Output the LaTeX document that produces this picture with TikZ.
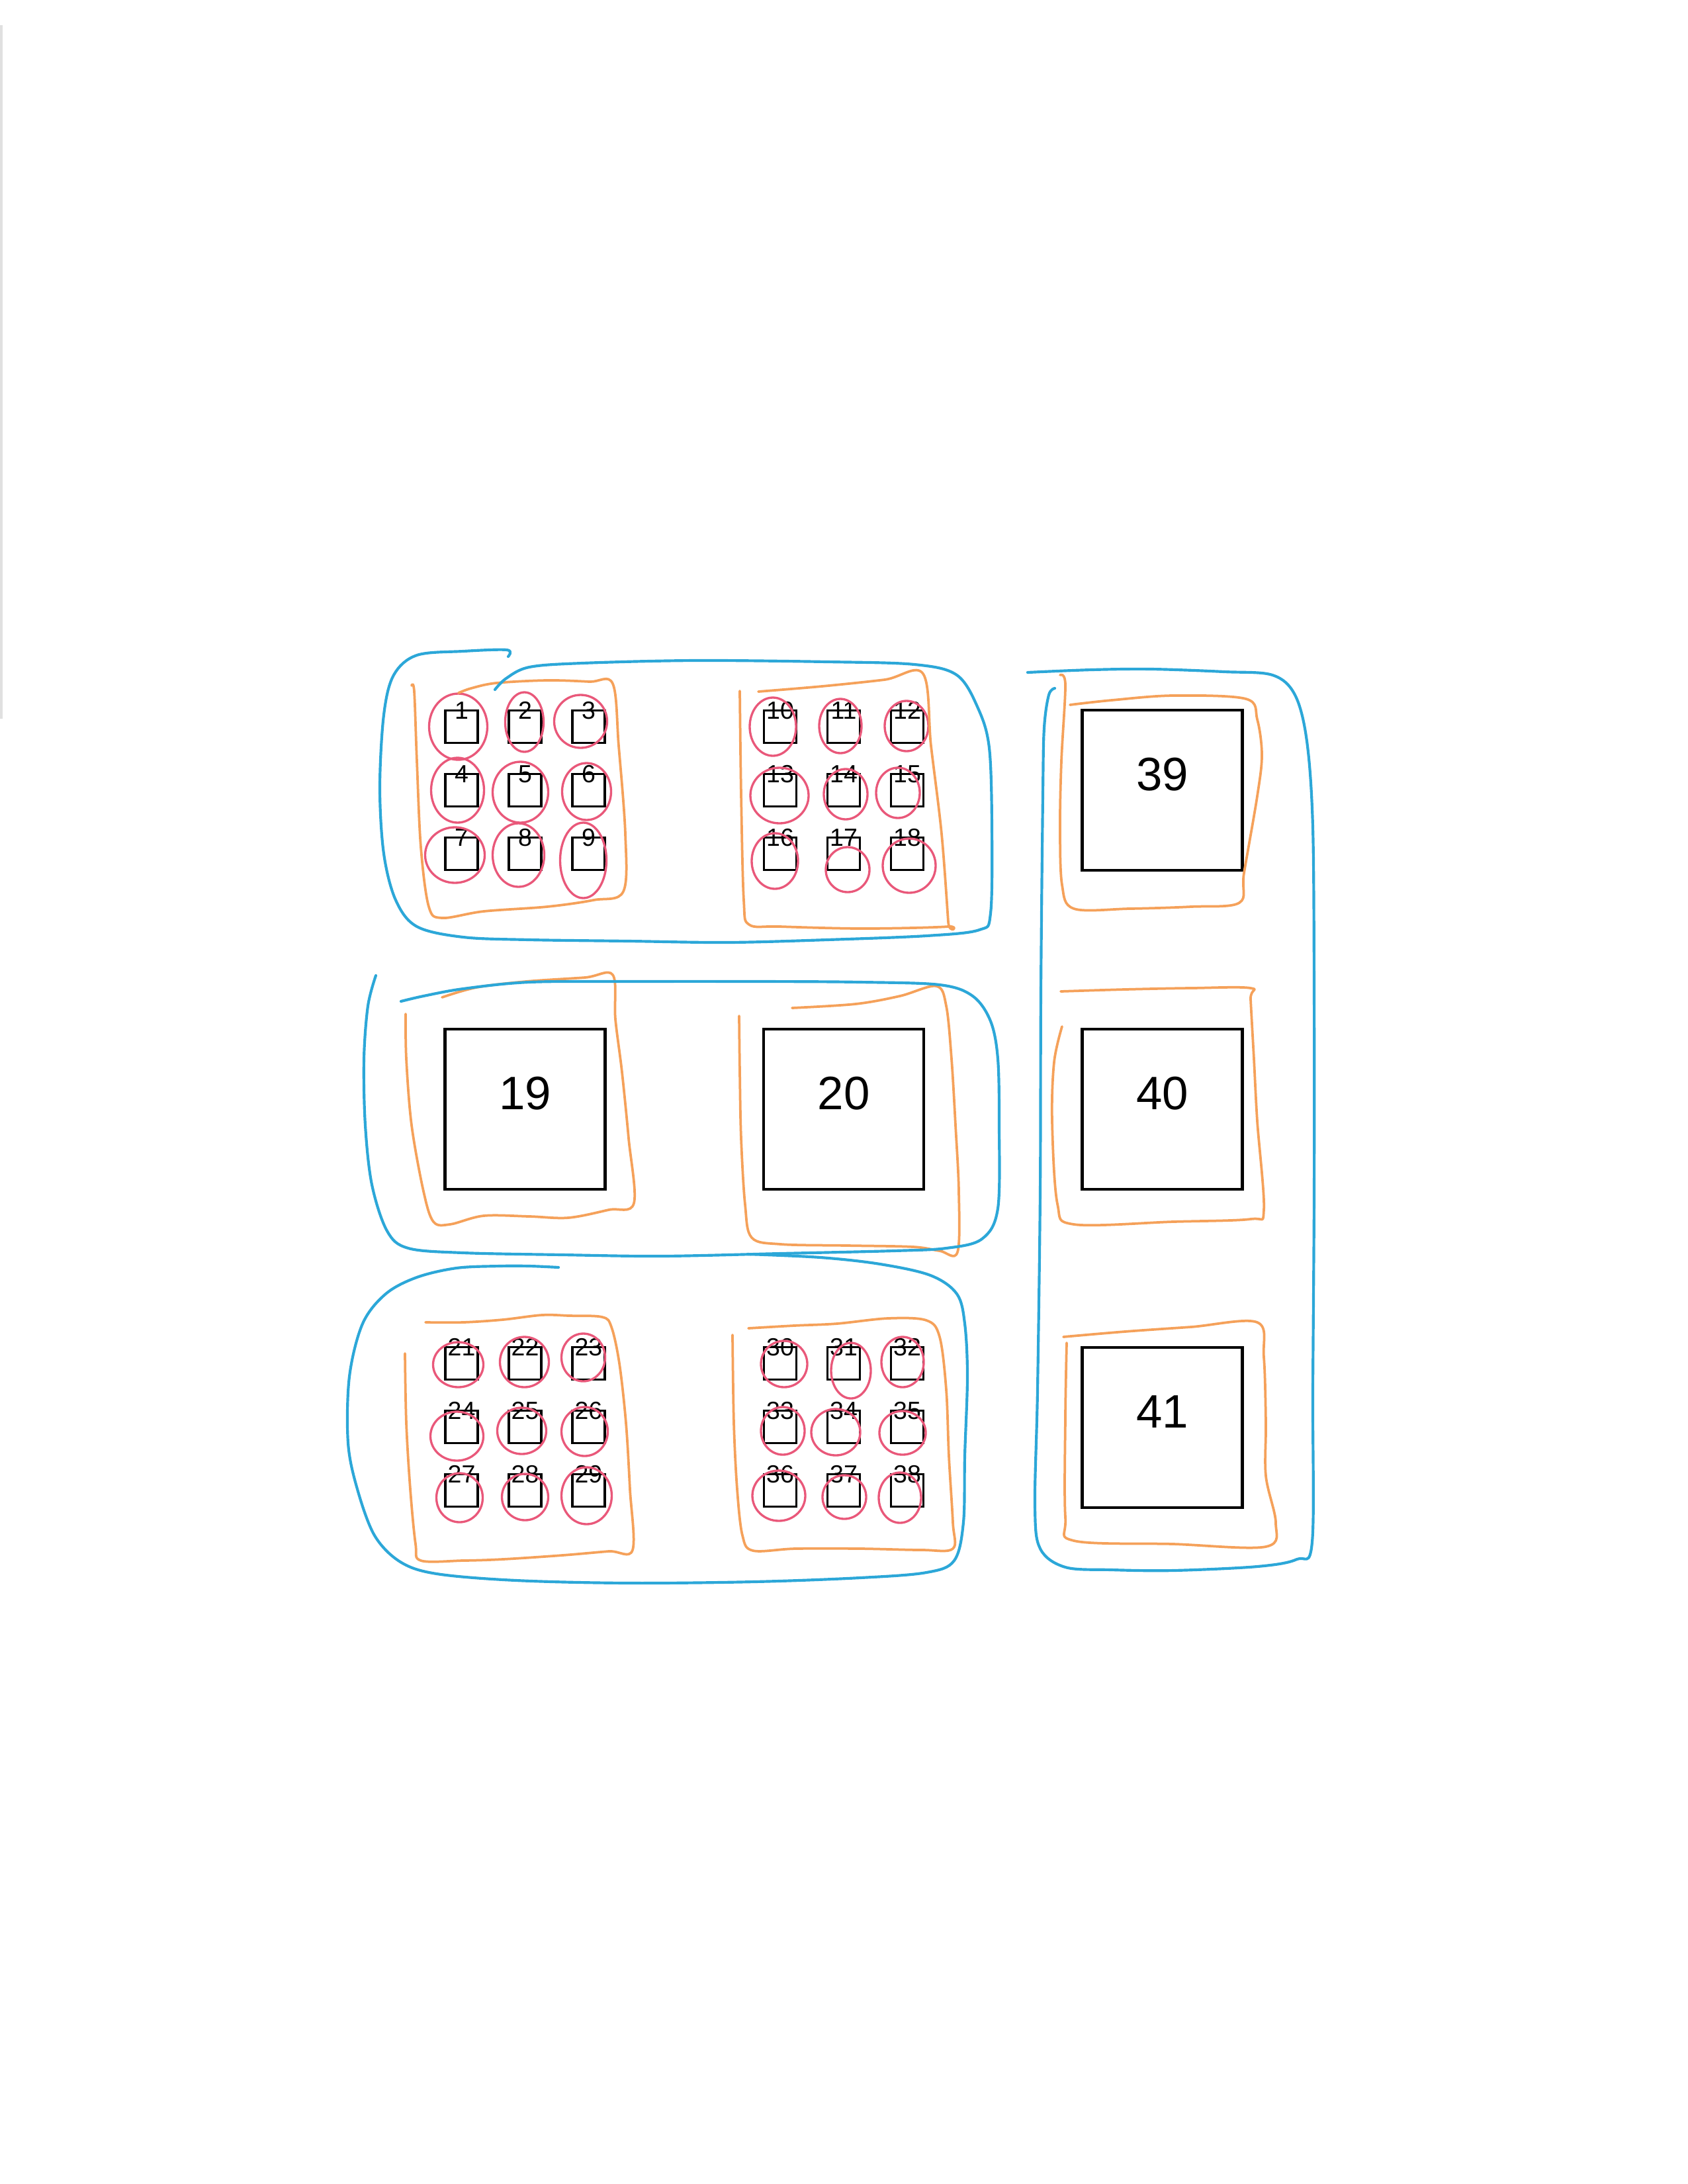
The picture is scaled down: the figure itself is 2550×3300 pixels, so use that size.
\documentclass[tikz,border=0pt]{standalone}
\usepackage{fontspec}
\setmainfont{Liberation Sans}
\usetikzlibrary{positioning}
\definecolor{skblue}{HTML}{2CA7D8}
\definecolor{skorange}{HTML}{F5A15A}
\definecolor{skred}{HTML}{E9587A}

\begin{document}
\begin{tikzpicture}[
  x=0.24pt, y=-0.24pt,
  node distance=11.28pt,
  cell/.style={draw, line width=0.9pt, minimum size=11.76pt, inner sep=0pt, outer sep=0pt},
  bigcell/.style={draw, line width=1pt, minimum size=58.08pt, inner sep=0pt, outer sep=0pt,
    text height=12.2pt, text depth=12.2pt, font=\fontsize{17}{20}\selectfont},
  num/.style={anchor=center, inner sep=0pt, font=\fontsize{9}{10}\selectfont},
  ring/.style={draw=skred, line width=0.8pt},
  group/.style={draw=skorange, line width=0.9pt, line cap=round, line join=round},
  block/.style={draw=skblue, line width=1pt, line cap=round, line join=round}
]

  \useasboundingbox (0,0) rectangle (2550,3300);
  \draw[black!12, line width=1.2pt] (2,38) -- (2,1086);

  \node[cell, label={[num]above:1}] (s1) at (697.5,1098) {};
  \node[cell, label={[num]above:2}, right=of s1] (s2) {};
  \node[cell, label={[num]above:3}, right=of s2] (s3) {};
  \node[cell, label={[num]above:4}, below=of s1] (s4) {};
  \node[cell, label={[num]above:5}, right=of s4] (s5) {};
  \node[cell, label={[num]above:6}, right=of s5] (s6) {};
  \node[cell, label={[num]above:7}, below=of s4] (s7) {};
  \node[cell, label={[num]above:8}, right=of s7] (s8) {};
  \node[cell, label={[num]above:9}, right=of s8] (s9) {};

  \node[cell, label={[num]above:10}] (s10) at (1179,1098) {};
  \node[cell, label={[num]above:11}, right=of s10] (s11) {};
  \node[cell, label={[num]above:12}, right=of s11] (s12) {};
  \node[cell, label={[num]above:13}, below=of s10] (s13) {};
  \node[cell, label={[num]above:14}, right=of s13] (s14) {};
  \node[cell, label={[num]above:15}, right=of s14] (s15) {};
  \node[cell, label={[num]above:16}, below=of s13] (s16) {};
  \node[cell, label={[num]above:17}, right=of s16] (s17) {};
  \node[cell, label={[num]above:18}, right=of s17] (s18) {};

  \node[bigcell] (b19) at (793.5,1676) {19};
  \node[bigcell] (b20) at (1275,1676) {20};

  \node[cell, label={[num]above:21}] (s21) at (697.5,2060) {};
  \node[cell, label={[num]above:22}, right=of s21] (s22) {};
  \node[cell, label={[num]above:23}, right=of s22] (s23) {};
  \node[cell, label={[num]above:24}, below=of s21] (s24) {};
  \node[cell, label={[num]above:25}, right=of s24] (s25) {};
  \node[cell, label={[num]above:26}, right=of s25] (s26) {};
  \node[cell, label={[num]above:27}, below=of s24] (s27) {};
  \node[cell, label={[num]above:28}, right=of s27] (s28) {};
  \node[cell, label={[num]above:29}, right=of s28] (s29) {};

  \node[cell, label={[num]above:30}] (s30) at (1179,2060) {};
  \node[cell, label={[num]above:31}, right=of s30] (s31) {};
  \node[cell, label={[num]above:32}, right=of s31] (s32) {};
  \node[cell, label={[num]above:33}, below=of s30] (s33) {};
  \node[cell, label={[num]above:34}, right=of s33] (s34) {};
  \node[cell, label={[num]above:35}, right=of s34] (s35) {};
  \node[cell, label={[num]above:36}, below=of s33] (s36) {};
  \node[cell, label={[num]above:37}, right=of s36] (s37) {};
  \node[cell, label={[num]above:38}, right=of s37] (s38) {};

  \node[bigcell] (b39) at (1756.5,1194) {39};
  \node[bigcell] (b40) at (1756.5,1676) {40};
  \node[bigcell] (b41) at (1756.5,2157) {41};

  \draw[ring] ([shift={(-5,0)}]s1.center) ellipse [x radius=44, y radius=50];
  \draw[ring] ([shift={(-1,-7)}]s2.center) ellipse [x radius=29, y radius=45];
  \draw[ring] ([shift={(-12,-8)}]s3.center) ellipse [x radius=40, y radius=40];
  \draw[ring] ([shift={(-6,0)}]s4.center) ellipse [x radius=40, y radius=49];
  \draw[ring] ([shift={(-7,3)}]s5.center) ellipse [x radius=42, y radius=46];
  \draw[ring] ([shift={(-3,2)}]s6.center) ellipse [x radius=37, y radius=43];
  \draw[ring] ([shift={(-10,2)}]s7.center) ellipse [x radius=45, y radius=42];
  \draw[ring] ([shift={(-10,2)}]s8.center) ellipse [x radius=39, y radius=48];
  \draw[ring] ([shift={(-8,10)}]s9.center) ellipse [x radius=35, y radius=57];
  \draw[ring] ([shift={(-11,0)}]s10.center) ellipse [x radius=35, y radius=44];
  \draw[ring] ([shift={(-5,-1)}]s11.center) ellipse [x radius=32, y radius=41];
  \draw[ring] ([shift={(-1,-1)}]s12.center) ellipse [x radius=33, y radius=38];
  \draw[ring] ([shift={(-1,8)}]s13.center) ellipse [x radius=44, y radius=42];
  \draw[ring] ([shift={(3,6)}]s14.center) ellipse [x radius=33, y radius=38];
  \draw[ring] ([shift={(-14,4)}]s15.center) ellipse [x radius=33, y radius=38];
  \draw[ring] ([shift={(-8,11)}]s16.center) ellipse [x radius=35, y radius=42];
  \draw[ring] ([shift={(6,24)}]s17.center) ellipse [x radius=33, y radius=34];
  \draw[ring] ([shift={(3,18)}]s18.center) ellipse [x radius=40, y radius=41];
  \draw[ring] ([shift={(-5,2)}]s21.center) ellipse [x radius=38, y radius=34];
  \draw[ring] ([shift={(-1,-2)}]s22.center) ellipse [x radius=37, y radius=38];
  \draw[ring] ([shift={(-8,-9)}]s23.center) ellipse [x radius=33, y radius=36];
  \draw[ring] ([shift={(-7,14)}]s24.center) ellipse [x radius=40, y radius=37];
  \draw[ring] ([shift={(-5,6)}]s25.center) ellipse [x radius=37, y radius=35];
  \draw[ring] ([shift={(-6,7)}]s26.center) ellipse [x radius=35, y radius=37];
  \draw[ring] ([shift={(-3,11)}]s27.center) ellipse [x radius=35, y radius=37];
  \draw[ring] ([shift={(0,10)}]s28.center) ellipse [x radius=35, y radius=35];
  \draw[ring] ([shift={(-3,8)}]s29.center) ellipse [x radius=38, y radius=43];
  \draw[ring] ([shift={(6,1)}]s30.center) ellipse [x radius=35, y radius=35];
  \draw[ring] ([shift={(11,11)}]s31.center) ellipse [x radius=30, y radius=42];
  \draw[ring] ([shift={(-7,-2)}]s32.center) ellipse [x radius=32, y radius=38];
  \draw[ring] ([shift={(4,6)}]s33.center) ellipse [x radius=33, y radius=36];
  \draw[ring] ([shift={(-12,8)}]s34.center) ellipse [x radius=37, y radius=35];
  \draw[ring] ([shift={(-7,9)}]s35.center) ellipse [x radius=35, y radius=33];
  \draw[ring] ([shift={(-2,8)}]s36.center) ellipse [x radius=40, y radius=38];
  \draw[ring] ([shift={(1,10)}]s37.center) ellipse [x radius=33, y radius=33];
  \draw[ring] ([shift={(-11,11)}]s38.center) ellipse [x radius=32, y radius=38];

  \draw[group] plot[smooth, tension=0.55] coordinates {(622,1036) (626,1045) (630,1150) (636,1280)
    (648,1370) (668,1387) (731,1377) (827,1370) (897,1360) (942,1347) (945,1260) (935,1127)
    (926,1033) (891,1030) (827,1028) (750,1032) (712,1040) (693,1047)};
  \draw[group] plot[smooth, tension=0.55] coordinates {(1118,1044) (1120,1200) (1124,1360)
    (1132,1397) (1178,1400) (1305,1403) (1433,1400) (1433,1393) (1423,1260) (1407,1127)
    (1395,1018) (1337,1027) (1242,1037) (1146,1045)};
  \draw[group] plot[smooth, tension=0.55] coordinates {(613,1532) (614,1600) (622,1700) (640,1800)
    (655,1846) (680,1850) (731,1837) (800,1838) (859,1840) (920,1828) (958,1818) (950,1720)
    (940,1620) (930,1540) (926,1473) (884,1477) (795,1483) (720,1492) (668,1507)};
  \draw[group] plot[smooth, tension=0.55] coordinates {(1117,1535) (1118,1620) (1120,1720)
    (1126,1820) (1136,1870) (1180,1880) (1280,1882) (1380,1884) (1420,1890) (1447,1892)
    (1449,1800) (1444,1700) (1438,1600) (1430,1520) (1415,1490) (1360,1505) (1293,1517) (1197,1523)};
  \draw[group] plot[smooth, tension=0.55] coordinates {(612,2045) (614,2150) (620,2250) (628,2333)
    (636,2358) (700,2358) (760,2356) (850,2350) (920,2344) (956,2342) (952,2250) (946,2150)
    (936,2060) (924,2005) (910,1990) (860,1988) (819,1987) (760,1994) (700,1998) (643,1998)};
  \draw[group] plot[smooth, tension=0.55] coordinates {(1131,2007) (1200,2003) (1265,2000)
    (1342,1992) (1400,1995) (1420,2020) (1430,2100) (1434,2200) (1440,2300) (1440,2340)
    (1393,2342) (1300,2340) (1202,2340) (1138,2343) (1122,2320) (1114,2250) (1109,2150) (1107,2017)};
  \draw[group] plot[smooth, tension=0.55] coordinates {(1602,1020) (1610,1035) (1604,1150)
    (1602,1248) (1605,1337) (1623,1373) (1707,1373) (1800,1370) (1873,1364) (1880,1319)
    (1900,1203) (1907,1141) (1900,1087) (1883,1056) (1773,1051) (1680,1058) (1617,1065)};
  \draw[group] plot[smooth, tension=0.55] coordinates {(1603,1498) (1700,1495) (1800,1493)
    (1890,1493) (1890,1510) (1895,1600) (1900,1694) (1910,1828) (1890,1842) (1773,1846)
    (1623,1850) (1598,1819) (1590,1694) (1593,1605) (1605,1551)};
  \draw[group] plot[smooth, tension=0.55] coordinates {(1607,2020) (1700,2012) (1800,2005)
    (1900,1998) (1910,2051) (1913,2150) (1913,2230) (1928,2301) (1913,2337) (1773,2333)
    (1623,2328) (1610,2292) (1610,2141) (1612,2029)};

  \draw[block] plot[smooth, tension=0.55] coordinates {(768,992) (766,982) (700,984) (630,990)
    (595,1020) (580,1080) (574,1190) (580,1290) (598,1360) (630,1400) (700,1416) (800,1420)
    (950,1422) (1100,1424) (1250,1420) (1400,1414) (1480,1405) (1497,1380) (1499,1250)
    (1495,1130) (1478,1070) (1446,1020) (1382,1004) (1250,1000) (1050,998) (880,1002)
    (800,1008) (765,1025) (748,1042)};
  \draw[block] plot[smooth, tension=0.55] coordinates {(568,1474) (556,1520) (550,1600) (552,1700)
    (562,1790) (585,1860) (617,1886) (700,1893) (850,1896) (1000,1898) (1180,1894) (1350,1890)
    (1430,1886) (1484,1872) (1508,1826) (1510,1700) (1508,1600) (1497,1543) (1470,1505)
    (1420,1488) (1300,1484) (1150,1483) (950,1483) (800,1484) (700,1494) (640,1505) (606,1513)};
  \draw[block] plot[smooth, tension=0.55] coordinates {(844,1915) (800,1913) (755,1913) (690,1916)
    (630,1930) (583,1955) (548,2000) (528,2080) (526,2180) (540,2250) (566,2320) (605,2360)
    (660,2378) (780,2388) (950,2392) (1140,2390) (1300,2384) (1400,2376) (1442,2358) (1456,2300)
    (1458,2200) (1462,2080) (1458,2000) (1446,1955) (1406,1927) (1330,1910) (1240,1900) (1130,1895)};
  \draw[block] plot[smooth, tension=0.55] coordinates {(1553,1016) (1650,1012) (1740,1011)
    (1850,1015) (1923,1020) (1957,1050) (1975,1120) (1984,1250) (1986,1500) (1986,1800)
    (1984,2100) (1983,2330) (1960,2356) (1900,2367) (1773,2373) (1680,2372) (1610,2368)
    (1572,2340) (1564,2275) (1568,2100) (1572,1800) (1573,1500) (1576,1200) (1578,1100)
    (1585,1050) (1594,1040)};

\end{tikzpicture}
\end{document}
